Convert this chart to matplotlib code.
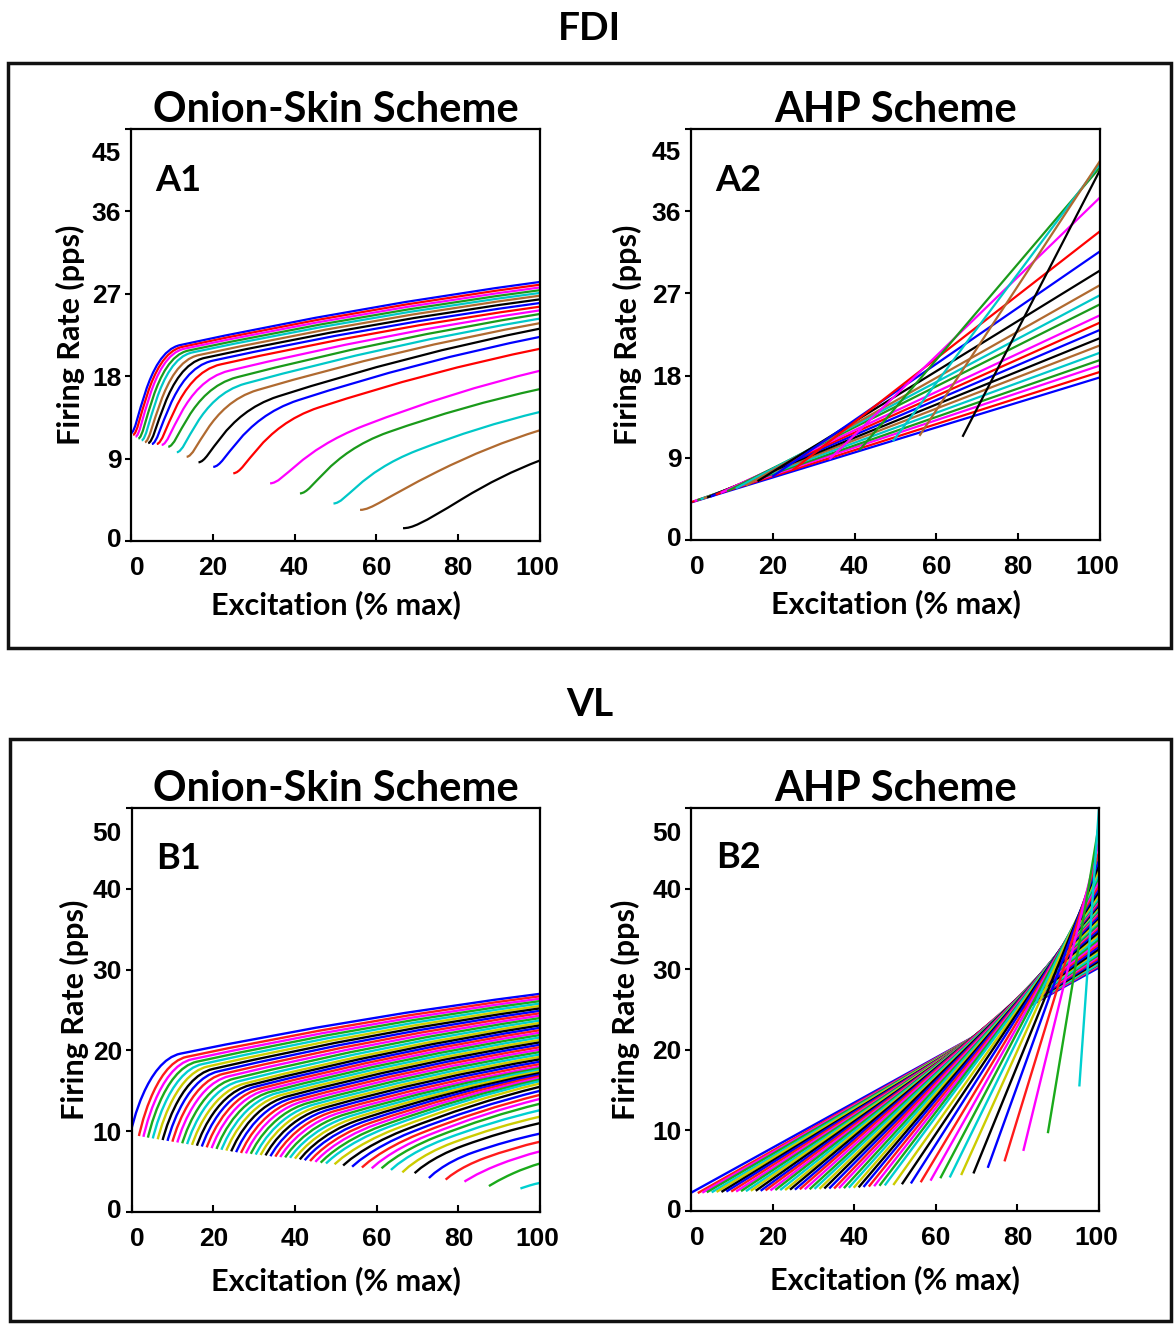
import matplotlib
matplotlib.use("Agg")
import matplotlib.pyplot as plt
from matplotlib.path import Path
from matplotlib.patches import PathPatch, Rectangle
import matplotlib.transforms as mtransforms

plt.rcParams['font.family'] = ['Liberation Sans', 'DejaVu Sans']
plt.rcParams['font.weight'] = 'bold'

# ---------------- FDI (21 unidades) ----------------
fdi_onset = [0, 0.5, 1.1, 1.8, 2.6, 3.4, 4.2, 5.1, 6.3, 7.5, 9.1, 11.2, 13.6, 16.5,
             20.1, 25.0, 34.0, 41.3, 49.5, 56.0, 66.5]
# A1 - onion skin: taxa no recrutamento, joelho da curva e taxa a 100 %
a1_onset_rate = [11.8, 11.6, 11.4, 11.2, 11.0, 10.8, 10.7, 10.6, 10.6, 10.5, 10.3, 9.7,
                 9.2, 8.6, 8.1, 7.4, 6.3, 5.2, 4.1, 3.4, 1.4]
a1_knee_x = [12, 12.5, 13, 14, 15, 16.5, 18, 20, 22, 24, 26, 28, 31, 36, 41, 46, 57,
             63, 70, 75, 81]
a1_knee_rate = [21.4, 21.2, 21.0, 20.8, 20.6, 20.3, 20.0, 19.7, 19.3, 18.6, 17.9, 17.2,
                16.5, 15.8, 15.4, 14.6, 12.6, 11.9, 9.9, 7.6, 4.6]
a1_end_rate = [28.3, 28.0, 27.7, 27.4, 27.1, 26.8, 26.4, 26.0, 25.6, 25.2, 24.8, 24.3,
               23.8, 23.2, 22.3, 21.0, 18.6, 16.6, 14.1, 12.1, 8.8]
# A2 - AHP: retas do recrutamento ate 100 %
a2_onset_rate = [4.1, 4.2, 4.3, 4.4, 4.5, 4.6, 4.7, 4.8, 5.0, 5.2, 5.4, 5.7, 6.0, 6.5,
                 7.0, 7.7, 8.9, 9.9, 10.9, 11.5, 11.4]
a2_end_rate = [17.8, 18.4, 19.1, 19.7, 20.5, 21.3, 22.1, 23.0, 23.8, 24.6, 25.8, 26.8,
               27.9, 29.5, 31.6, 33.8, 37.5, 40.8, 41.2, 41.5, 40.5]

# ---------------- VL (54 unidades) ----------------
vl_onset = [0, 1.8, 2.9, 4.0, 5.2, 6.4, 7.6, 8.8, 10.0, 11.2, 12.4, 13.6, 14.8, 16.0,
            17.2, 18.4, 19.6, 20.8, 22.0, 23.2, 24.4, 25.6, 26.8, 28.0, 29.2, 30.4,
            31.6, 32.8, 34.0, 35.2, 36.4, 37.6, 38.8, 40.0, 41.2, 42.4, 43.7, 45.0,
            46.3, 47.6, 49.7, 51.8, 54.0, 56.4, 58.8, 61.2, 63.5, 66.3, 69.3, 72.8,
            76.9, 81.5, 87.5, 95.2]
b1_onset_rate = [10.3, 9.4, 9.3, 9.2, 9.1, 9.0, 8.9, 8.8, 8.7, 8.6, 8.5, 8.4, 8.3, 8.2,
                 8.1, 8.0, 7.9, 7.8, 7.7, 7.6, 7.5, 7.4, 7.3, 7.25, 7.2, 7.1, 7.05, 7.0,
                 6.9, 6.85, 6.8, 6.75, 6.7, 6.6, 6.5, 6.4, 6.3, 6.2, 6.1, 6.0, 5.9, 5.75,
                 5.6, 5.5, 5.4, 5.4, 5.2, 4.9, 4.8, 4.2, 4.0, 3.75, 3.2, 2.9]
b1_knee_x = [12, 13.5, 14.8, 16.0, 17.3, 18.6, 19.9, 21.2, 22.5, 23.8, 25.1, 26.4, 27.7,
             29.0, 30.3, 31.6, 32.9, 34.2, 35.5, 36.8, 38.1, 39.4, 40.7, 42.0, 43.3,
             44.6, 45.9, 47.2, 48.5, 49.8, 51.1, 52.4, 53.7, 55.0, 56.3, 57.6, 58.9,
             60.2, 61.5, 62.8, 64.7, 66.6, 68.6, 70.6, 72.6, 74.6, 76.6, 78.8, 81.2,
             83.8, 86.6, 89.6, 93.5, 97.6]
b1_knee_rate = [19.6, 19.2, 18.9, 18.6, 18.3, 18.0, 17.7, 17.4, 17.1, 16.8, 16.5, 16.2,
                15.9, 15.7, 15.5, 15.3, 15.1, 14.9, 14.7, 14.5, 14.3, 14.1, 13.9, 13.7,
                13.5, 13.3, 13.1, 12.9, 12.7, 12.5, 12.3, 12.1, 11.9, 11.7, 11.5, 11.3,
                11.1, 10.9, 10.7, 10.5, 10.3, 10.1, 9.9, 9.7, 9.5, 9.3, 9.0, 8.6, 8.2,
                7.4, 6.7, 5.8, 4.8, 3.3]
b1_end_rate = [27.0, 26.7, 26.4, 26.1, 25.8, 25.5, 25.2, 24.9, 24.6, 24.3, 24.0, 23.7,
               23.4, 23.1, 22.8, 22.5, 22.2, 21.9, 21.6, 21.3, 21.0, 20.7, 20.4, 20.1,
               19.8, 19.5, 19.2, 18.9, 18.6, 18.3, 18.0, 17.8, 17.6, 17.4, 17.2, 17.0,
               16.8, 16.6, 16.4, 16.2, 15.9, 15.5, 15.0, 14.5, 14.0, 13.4, 12.6, 11.8,
               11.0, 9.7, 8.7, 7.5, 6.0, 3.6]
b2_onset_rate = [2.3, 2.3, 2.35, 2.4, 2.4, 2.45, 2.45, 2.5, 2.5, 2.5, 2.55, 2.55, 2.6,
                 2.6, 2.6, 2.65, 2.65, 2.7, 2.7, 2.7, 2.75, 2.75, 2.8, 2.8, 2.8, 2.85,
                 2.85, 2.9, 2.9, 2.9, 2.95, 2.95, 3.0, 3.0, 3.05, 3.1, 3.15, 3.2, 3.25,
                 3.3, 3.35, 3.45, 3.55, 3.7, 3.9, 4.2, 4.3, 4.6, 4.8, 5.5, 6.3, 7.6,
                 9.8, 15.6]
b2_end_rate = [30.2, 30.4, 30.5, 30.6, 30.7, 30.9, 31.0, 31.2, 31.4, 31.6, 31.8, 32.0,
               32.3, 32.5, 32.8, 33.1, 33.4, 33.7, 34.0, 34.3, 34.6, 34.9, 35.2, 35.4,
               35.6, 35.9, 36.1, 36.4, 36.6, 36.9, 37.1, 37.3, 37.5, 37.7, 37.9, 38.1,
               38.3, 38.5, 38.7, 38.9, 39.2, 39.6, 40.0, 40.4, 40.9, 41.4, 41.8, 42.3,
               42.9, 43.6, 44.5, 45.8, 48.0, 50.0]

# ciclos de cor (ordem de recrutamento)
fdi_colors = ['#0000ff', '#ff0000', '#ff00ff', '#1a9a1a', '#00c8c8', '#b06a30', '#000000']
vl_colors = ['#0000ff', '#ff1a1a', '#ff00ff', '#1aaa1a', '#00d0d0', '#cccc00', '#000000']

x_ticks = [0, 20, 40, 60, 80, 100]
fdi_yticks = [0, 9, 18, 27, 36, 45]
vl_yticks = [0, 10, 20, 30, 40, 50]


def unit_path(ox, oy, kx, ky, ey, a, b, q):
    # subida ate o joelho (bezier cubica) e depois ate 100 % (quadratica)
    cx = kx + 0.5 * (100 - kx)
    cy = ky + q * (ey - ky)
    s = (cy - ky) / (cx - kx)
    d = kx - ox
    verts = [(ox, oy), (ox + a * d, oy), (kx - b * d, ky - b * d * s), (kx, ky),
             (cx, cy), (100, ey)]
    codes = [Path.MOVETO, Path.CURVE4, Path.CURVE4, Path.CURVE4,
             Path.CURVE3, Path.CURVE3]
    return Path(verts, codes)


def shift(label, dx_px, dy_px, fig):
    label.set_transform(label.get_transform() + mtransforms.ScaledTranslation(
        dx_px / 100, dy_px / 100, fig.dpi_scale_trans))


def style_axes(ax, yticks, title, letter, ylab_x, xlab_y, shift_px):
    ax.set_xlim(0, 100)
    ax.set_ylim(0, yticks[-1])
    ax.set_xticks(x_ticks)
    ax.set_yticks(yticks)
    ax.tick_params(axis='x', direction='in', length=5, width=1.5, pad=11, labelsize=19)
    ax.tick_params(axis='y', direction='out', length=4, width=1.5, pad=3, labelsize=19)
    for sp in ax.spines.values():
        sp.set_linewidth(1.6)
    # posicoes dos rotulos extremos como no original
    xl = ax.get_xticklabels()
    shift(xl[0], 6, 0, ax.figure)
    shift(xl[-1], -3, 0, ax.figure)
    yl = ax.get_yticklabels()
    shift(yl[0], 0, 3, ax.figure)
    shift(yl[-1], 0, -shift_px, ax.figure)
    ax.set_title(title, fontfamily='Lato', fontweight='bold', fontsize=30, pad=5)
    ax.text(0.06, 0.85, letter, transform=ax.transAxes, fontfamily='Lato',
            fontweight='bold', fontsize=26, va='baseline', ha='left')
    ax.set_xlabel('Excitation (% max)', fontfamily='Lato', fontweight='bold', fontsize=22)
    ax.set_ylabel('Firing Rate (pps)', fontfamily='Lato', fontweight='bold', fontsize=22)
    ax.xaxis.set_label_coords(0.5, xlab_y)
    ax.xaxis.label.set_va('center')
    ax.yaxis.set_label_coords(ylab_x, 0.5)
    ax.yaxis.label.set_va('center')


fig = plt.figure(figsize=(11.75, 13.25), dpi=100)

ax_a1 = fig.add_axes([0.1115, 0.5917, 0.3481, 0.3109])
ax_a2 = fig.add_axes([0.5881, 0.5925, 0.3481, 0.3102])
ax_b1 = fig.add_axes([0.1120, 0.0853, 0.3476, 0.3049])
ax_b2 = fig.add_axes([0.5885, 0.0860, 0.3468, 0.3042])

# A1
for i in range(len(fdi_onset)):
    p = unit_path(fdi_onset[i], a1_onset_rate[i], a1_knee_x[i], a1_knee_rate[i],
                  a1_end_rate[i], 0.15, 0.7, 0.62)
    ax_a1.add_patch(PathPatch(p, fill=False, edgecolor=fdi_colors[i % 7], lw=1.6))
# A2
for i in range(len(fdi_onset)):
    ax_a2.plot([fdi_onset[i], 100], [a2_onset_rate[i], a2_end_rate[i]],
               color=fdi_colors[i % 7], lw=1.6)
# B1
for i in range(len(vl_onset)):
    p = unit_path(vl_onset[i], b1_onset_rate[i], b1_knee_x[i], b1_knee_rate[i],
                  b1_end_rate[i], 0.0, 0.7, 0.62)
    ax_b1.add_patch(PathPatch(p, fill=False, edgecolor=vl_colors[i % 7], lw=1.7))
# B2
for i in range(len(vl_onset)):
    ax_b2.plot([vl_onset[i], 100], [b2_onset_rate[i], b2_end_rate[i]],
               color=vl_colors[i % 7], lw=1.7)

style_axes(ax_a1, fdi_yticks, 'Onion-Skin Scheme', 'A1', -0.147, -0.155, 22)
style_axes(ax_a2, fdi_yticks, 'AHP Scheme', 'A2', -0.156, -0.155, 22)
style_axes(ax_b1, vl_yticks, 'Onion-Skin Scheme', 'B1', -0.139, -0.171, 24)
style_axes(ax_b2, vl_yticks, 'AHP Scheme', 'B2', -0.163, -0.171, 24)

# titulos dos musculos e caixas
fig.text(0.502, 1 - 28 / 1325, 'FDI', fontfamily='Lato', fontweight='bold',
         fontsize=28, ha='center', va='center')
fig.text(0.502, 1 - 705 / 1325, 'VL', fontfamily='Lato', fontweight='bold',
         fontsize=28, ha='center', va='center')
fig.add_artist(Rectangle((8 / 1175, 677 / 1325), 1163 / 1175, 585 / 1325,
                         transform=fig.transFigure, fill=False, lw=2.5, ec='#111111'))
fig.add_artist(Rectangle((10 / 1175, 4 / 1325), 1161 / 1175, 582 / 1325,
                         transform=fig.transFigure, fill=False, lw=2.5, ec='#111111'))

fig.savefig('out.png', dpi=100)
